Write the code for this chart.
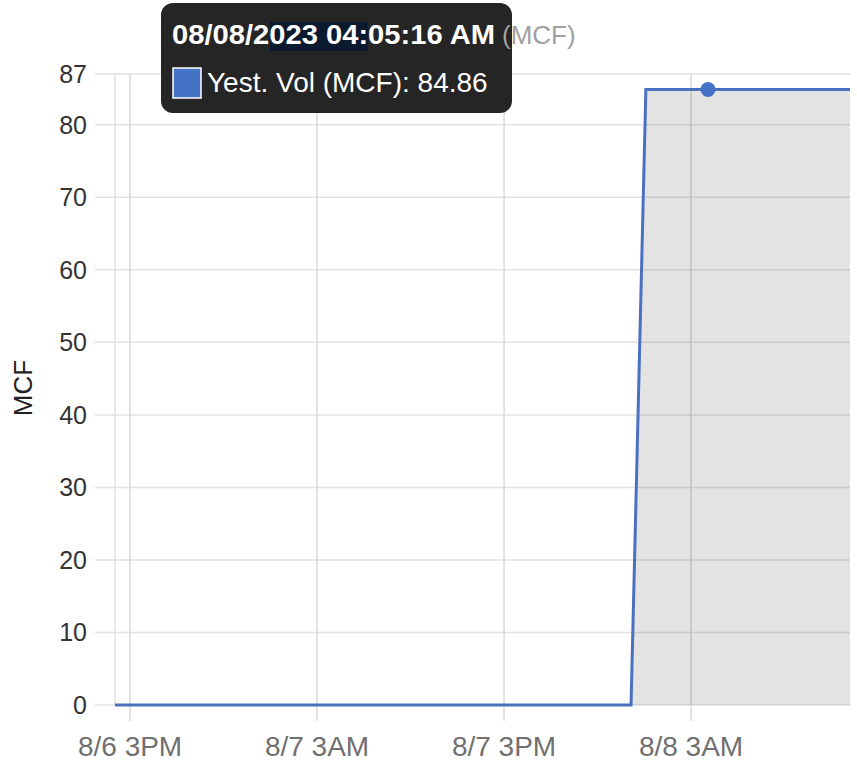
<!DOCTYPE html>
<html>
<head>
<meta charset="utf-8">
<script src="https://cdn.jsdelivr.net/npm/d3@7"></script>
<style>
  html, body { margin: 0; padding: 0; background: #fff; }
  svg { display: block; font-family: "Liberation Sans", Arial, sans-serif; }
</style>
</head>
<body>
<div id="container"></div>
<script>
// Data
const times = ["2023-08-06T14:02:00", "2023-08-07T23:09:00", "2023-08-08T00:06:00", "2023-08-08T13:12:00"];
const values = [0, 0, 84.86, 84.86];
const yTicks = [0, 10, 20, 30, 40, 50, 60, 70, 80, 87];
const xTickTimes = ["2023-08-06T15:00:00", "2023-08-07T03:00:00", "2023-08-07T15:00:00", "2023-08-08T03:00:00"];
const xTickLabels = ["8/6 3PM", "8/7 3AM", "8/7 3PM", "8/8 3AM"];
const hoverTime = "2023-08-08T04:05:16";
const hoverValue = 84.86;
const seriesName = "Yest. Vol (MCF)";
const tooltipTitle = "08/08/2023 04:05:16 AM";

const width = 857;
const height = 761;
const margin = { left: 115, right: 7, top: 74, bottom: 56 };

const parse = d3.isoParse;
const data = times.map((t, i) => ({ t: parse(t), v: values[i] }));

const x = d3
  .scaleTime()
  .domain([parse(times[0]), parse(times[times.length - 1])])
  .range([margin.left, width - margin.right]);
const y = d3
  .scaleLinear()
  .domain([0, 87])
  .range([height - margin.bottom, margin.top]);

const svg = d3
  .select("#container")
  .append("svg")
  .attr("width", width)
  .attr("height", height);

// Horizontal grid + y labels
const yg = svg.append("g");
yg.selectAll("line")
  .data(yTicks)
  .enter()
  .append("line")
  .attr("x1", 95)
  .attr("x2", width - margin.right)
  .attr("y1", (d) => y(d))
  .attr("y2", (d) => y(d))
  .attr("stroke", "#e2e2e2")
  .attr("stroke-width", 1.5);
yg.selectAll("text")
  .data(yTicks)
  .enter()
  .append("text")
  .attr("x", 87)
  .attr("y", (d) => y(d))
  .attr("dy", "0.36em")
  .attr("text-anchor", "end")
  .attr("font-size", 25)
  .attr("fill", "#333")
  .text((d) => d);

// Vertical grid + x labels
const xg = svg.append("g");
xg.append("line")
  .attr("x1", margin.left)
  .attr("x2", margin.left)
  .attr("y1", y(87))
  .attr("y2", y(0))
  .attr("stroke", "#e2e2e2")
  .attr("stroke-width", 1.5);
xg.selectAll("line.v")
  .data(xTickTimes)
  .enter()
  .append("line")
  .attr("class", "v")
  .attr("x1", (d) => x(parse(d)))
  .attr("x2", (d) => x(parse(d)))
  .attr("y1", y(87))
  .attr("y2", y(0) + 16)
  .attr("stroke", "#dadada")
  .attr("stroke-width", 1.5);
xg.selectAll("text")
  .data(xTickTimes)
  .enter()
  .append("text")
  .attr("x", (d) => x(parse(d)))
  .attr("y", 756)
  .attr("text-anchor", "middle")
  .attr("font-size", 28)
  .attr("fill", "#707070")
  .text((d, i) => xTickLabels[i]);

// Y axis title
svg
  .append("text")
  .attr("transform", "translate(32,388) rotate(-90)")
  .attr("text-anchor", "middle")
  .attr("font-size", 26)
  .attr("fill", "#222")
  .text("MCF");

// Area + line
const area = d3
  .area()
  .x((d) => x(d.t))
  .y0(y(0))
  .y1((d) => y(d.v));
svg
  .append("path")
  .datum(data)
  .attr("d", area)
  .attr("fill", "rgba(0,0,0,0.11)");

const line = d3
  .line()
  .x((d) => x(d.t))
  .y((d) => y(d.v));
svg
  .append("path")
  .datum(data)
  .attr("d", line)
  .attr("fill", "none")
  .attr("stroke", "#4a70c0")
  .attr("stroke-width", 3);

svg
  .append("circle")
  .attr("cx", x(parse(hoverTime)))
  .attr("cy", y(hoverValue))
  .attr("r", 7.5)
  .attr("fill", "#4472c4");

// Tooltip
const tip = svg.append("g").attr("transform", "translate(161,3)");
tip
  .append("rect")
  .attr("width", 351)
  .attr("height", 110)
  .attr("rx", 12)
  .attr("fill", "#252525");
tip
  .append("rect")
  .attr("x", 109)
  .attr("y", 19)
  .attr("width", 98)
  .attr("height", 29)
  .attr("fill", "#0c1a30");
tip
  .append("text")
  .attr("x", 11)
  .attr("y", 41)
  .attr("font-size", 28)
  .attr("font-weight", "bold")
  .attr("fill", "#fff")
  .attr("textLength", 323)
  .attr("lengthAdjust", "spacingAndGlyphs")
  .text(tooltipTitle);
tip
  .append("rect")
  .attr("x", 12)
  .attr("y", 65)
  .attr("width", 28)
  .attr("height", 30)
  .attr("fill", "#4472c4")
  .attr("stroke", "#fff")
  .attr("stroke-width", 1.5);
tip
  .append("text")
  .attr("x", 46)
  .attr("y", 89)
  .attr("font-size", 28)
  .attr("fill", "#fff")
  .text(seriesName + ": " + hoverValue);

// Tail of the chart title, peeking out from behind the tooltip
svg
  .append("text")
  .attr("x", 502)
  .attr("y", 44)
  .attr("font-size", 26)
  .attr("fill", "#a0a0a0")
  .text("(MCF)");
</script>
</body>
</html>
